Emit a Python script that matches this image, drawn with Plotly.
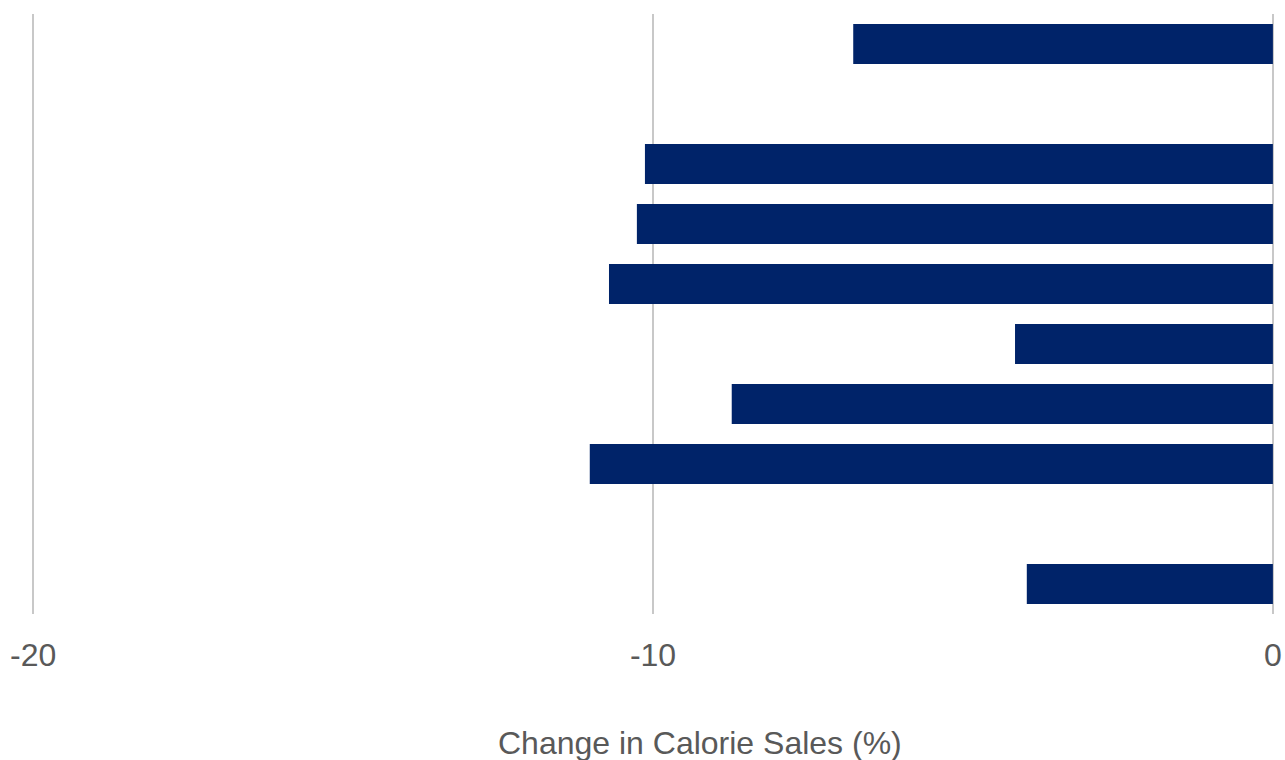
import plotly.graph_objects as go

categories = ["C1", "C2", "C3", "C4", "C5", "C6", "C7", "C8", "C9", "C10"]
values = [-6.77, None, -10.13, -10.26, -10.71, -4.16, -8.73, -11.02, None, -3.97]
tick_vals = [-20, -10, 0]
tick_text = ["-20", "-10", "0"]
x_title = "Change in Calorie Sales (%)"

fig = go.Figure(go.Bar(
    y=categories, x=values, orientation="h",
    marker=dict(color="#002369", line=dict(width=0)),
    width=0.667,
))

fig.update_layout(
    width=1285, height=760,
    margin=dict(l=30, r=9, t=14, b=146, autoexpand=False),
    paper_bgcolor="white", plot_bgcolor="white",
    font=dict(family="Liberation Sans, Arial, sans-serif", color="#595959", size=32),
    showlegend=False,
    bargap=0.333,
    annotations=[dict(
        text=x_title, xref="paper", yref="paper", x=0.5377, y=-0.215,
        xanchor="center", yanchor="middle", showarrow=False,
        font=dict(size=32, color="#595959"),
    )],
)
fig.update_xaxes(
    range=[-20.05, 0.05], tickvals=tick_vals, ticktext=tick_text,
    showgrid=True, gridcolor="#C8C8C8", gridwidth=2,
    zeroline=False, showline=False, ticks="",
    ticklabelstandoff=19, automargin=False,
)
fig.update_yaxes(
    categoryorder="array", categoryarray=categories[::-1],
    showticklabels=False, showgrid=False, zeroline=False, showline=False, ticks="",
    automargin=False,
)

fig.write_html(
    "out.html",
    config={"displayModeBar": False},
    post_script="document.body.style.margin='0';document.body.style.overflow='hidden';",
)
